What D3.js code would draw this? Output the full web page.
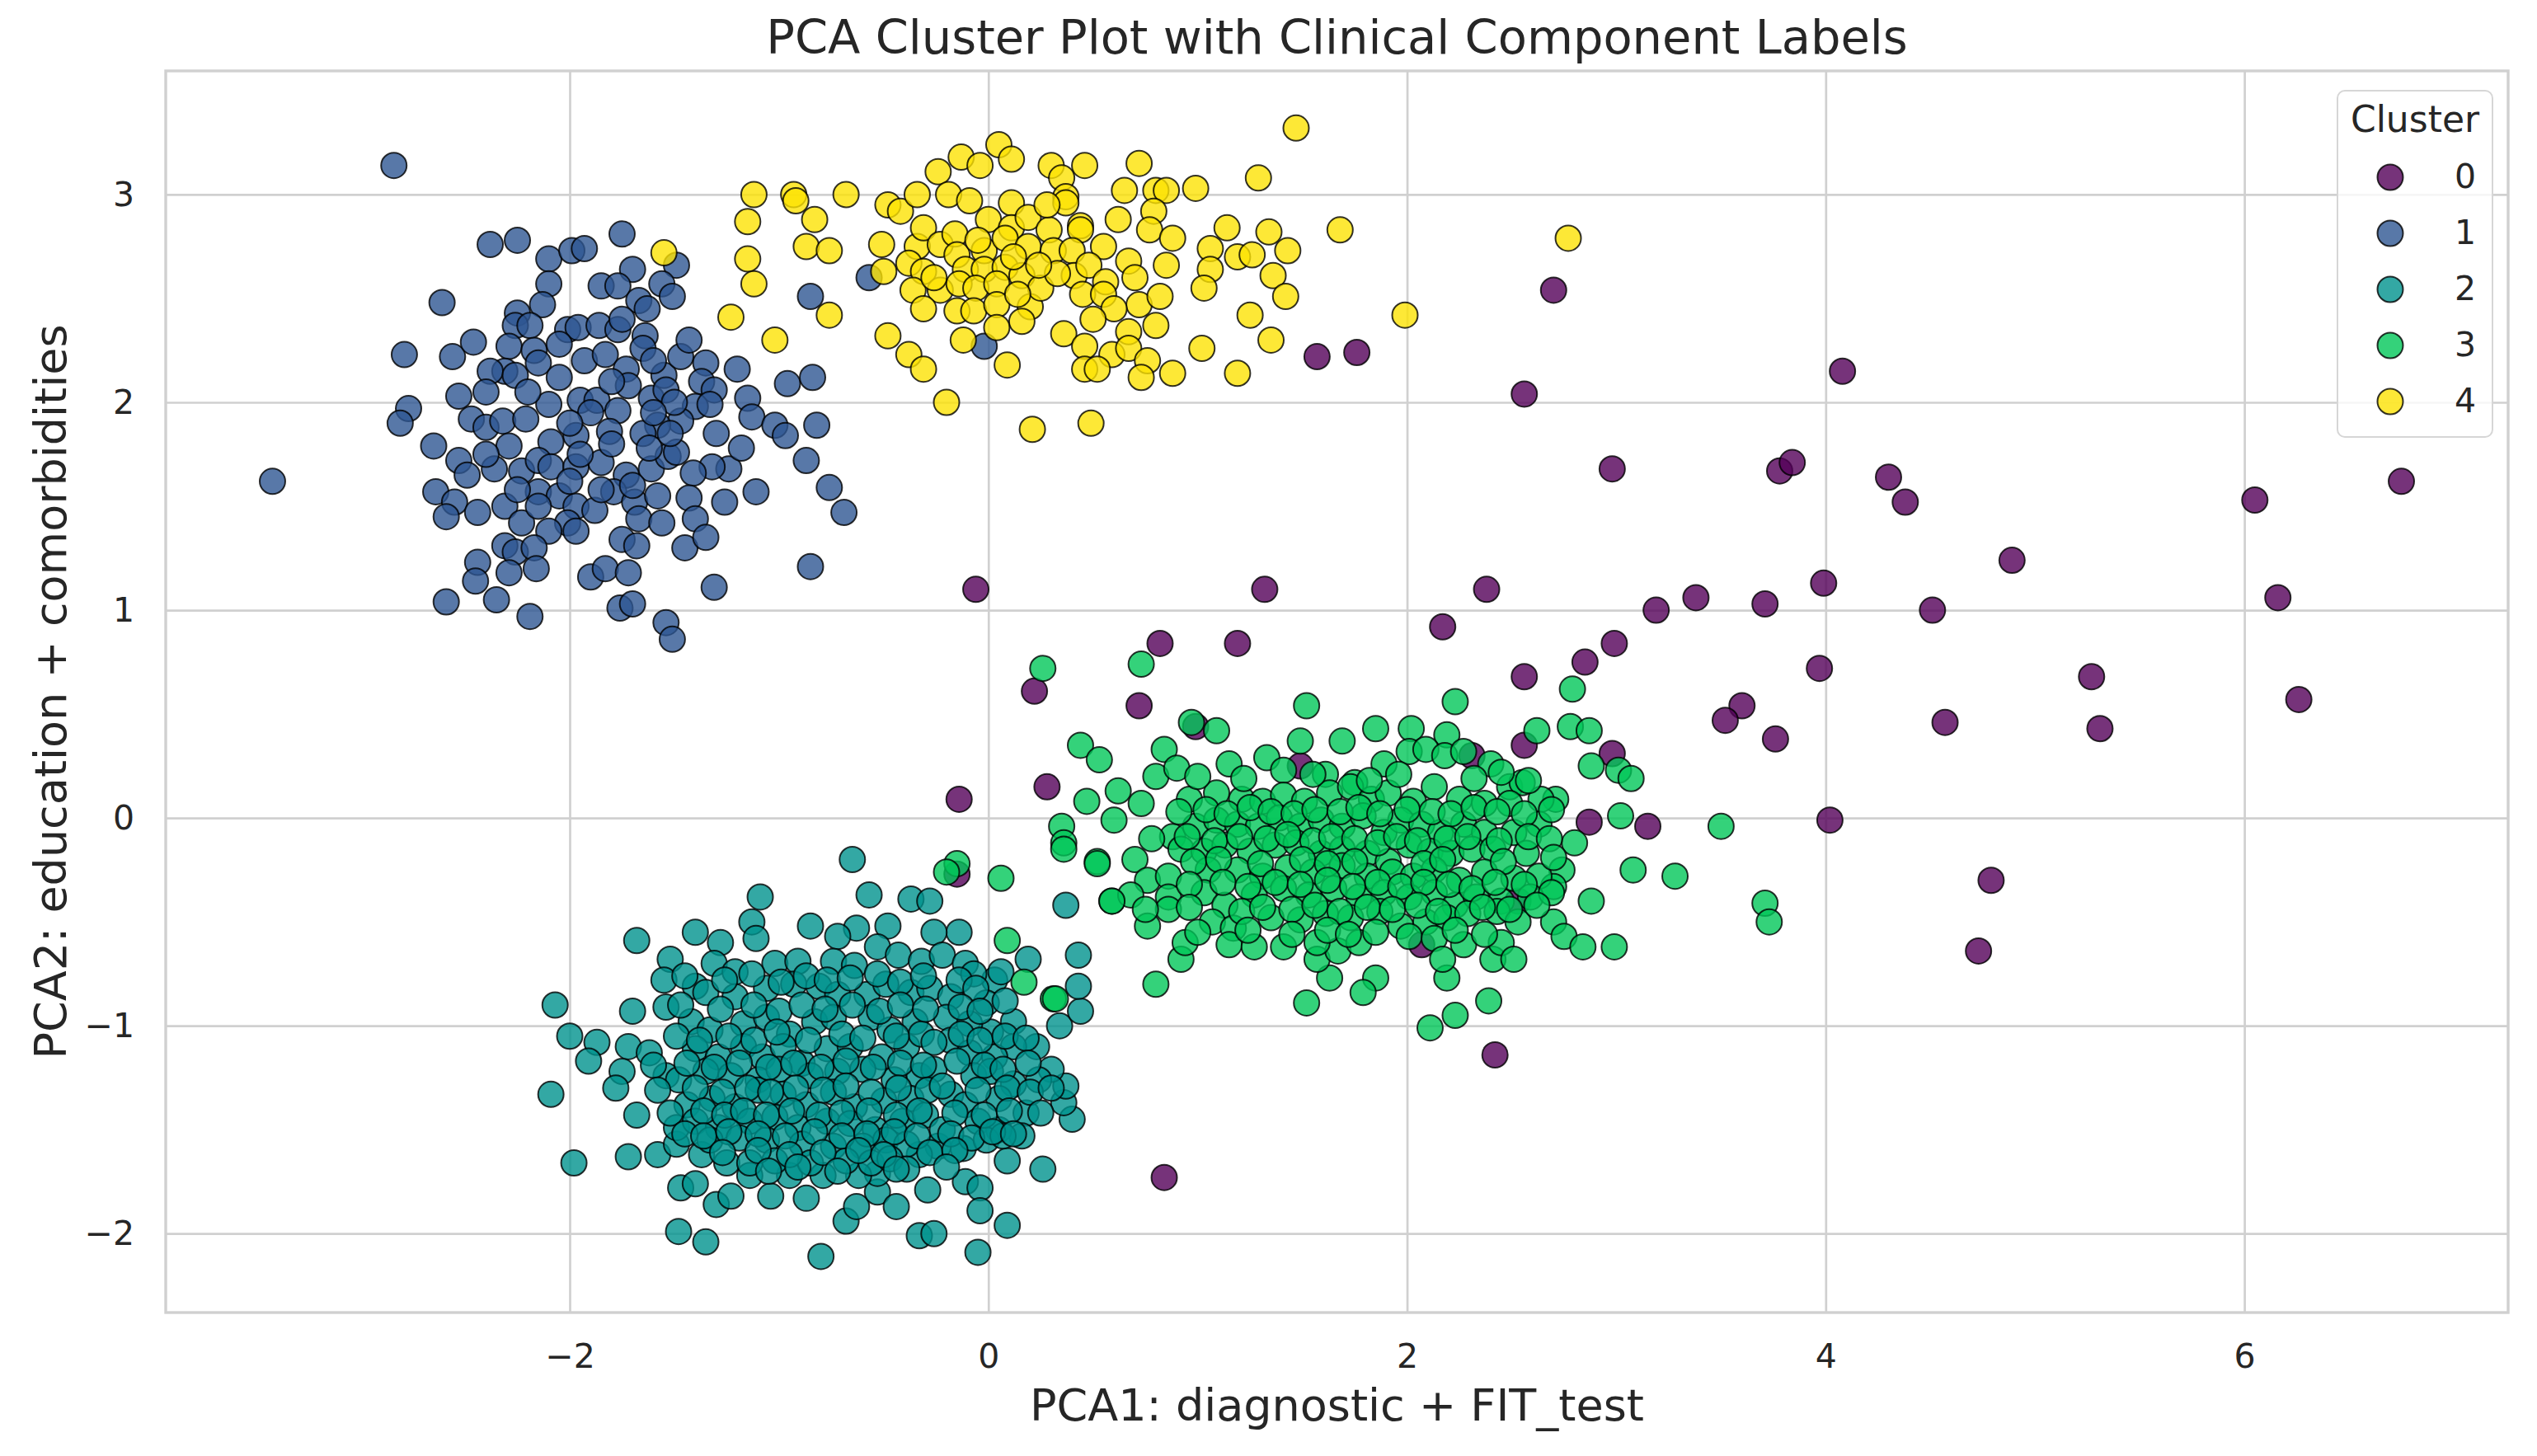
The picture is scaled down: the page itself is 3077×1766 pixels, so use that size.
<!DOCTYPE html>
<html>
<head>
<meta charset="utf-8">
<script src="https://cdn.jsdelivr.net/npm/d3@7"></script>
<style>
  body { margin: 0; background: #ffffff; }
  text { font-family: "DejaVu Sans", sans-serif; fill: #262626; }
</style>
</head>
<body>
<div id="chart"></div>
<script>
// cluster ids and colours (viridis-like, drawn with alpha 0.8)
var clusterLabels = [0, 1, 2, 3, 4];
var clusterColors = ["#540059", "#2e5692", "#00928d", "#01c759", "#fde204"];

var xTicks = [-2, 0, 2, 4, 6];
var yTicks = [-2, -1, 0, 1, 2, 3];

// points, [PCA1, PCA2]
var cluster0 = [
  [1.57,2.22],[1.76,2.24],[2.70,2.54],[2.56,2.04],[2.98,1.68],[4.08,2.15],[3.78,1.67],[3.84,1.71],
  [4.30,1.64],[4.38,1.52],[6.05,1.53],[6.75,1.62],[4.89,1.24],[6.16,1.06],[6.26,0.57],[5.27,0.68],
  [5.31,0.43],[4.51,1.00],[4.57,0.46],[3.99,1.13],[3.97,0.72],[3.71,1.03],[3.38,1.06],[3.19,1.00],
  [2.99,0.84],[2.85,0.75],[2.56,0.68],[2.38,1.10],[2.17,0.92],[3.60,0.54],[3.52,0.47],[3.76,0.38],
  [4.02,-0.01],[4.79,-0.30],[4.73,-0.64],[3.15,-0.04],[2.98,0.31],[2.87,-0.02],[2.56,0.35],[2.31,0.30],
  [1.49,0.25],[2.42,-1.14],[0.84,-1.73],[-0.06,1.10],[1.32,1.10],[1.19,0.84],[0.82,0.84],[0.72,0.54],
  [0.22,0.61],[0.28,0.15],[-0.14,0.09],[-0.15,-0.27],[2.07,-0.61],[2.53,-0.40],[0.99,0.44]
];

var cluster1 = [
  [-2.38,2.76],[-2.25,2.78],[-2.10,2.69],[-1.99,2.73],[-1.93,2.74],[-1.75,2.81],[-1.70,2.64],[-1.49,2.66],
  [-2.10,2.57],[-1.85,2.56],[-1.77,2.56],[-1.56,2.57],[-1.51,2.51],[-1.67,2.49],[-1.63,2.45],[-2.13,2.47],
  [-2.25,2.43],[-2.26,2.37],[-2.19,2.37],[-2.01,2.35],[-1.96,2.36],[-1.86,2.37],[-1.77,2.35],[-1.64,2.32],
  [-1.65,2.26],[-2.61,2.48],[-2.79,2.23],[-2.56,2.22],[-2.46,2.29],[-2.29,2.27],[-2.17,2.25],[-2.31,2.15],
  [-2.38,2.15],[-2.26,2.13],[-2.15,2.19],[-2.05,2.12],[-1.93,2.20],[-1.83,2.23],[-1.73,2.16],[-1.55,2.13],
  [-1.47,2.22],[-1.43,2.30],[-1.35,2.19],[-1.37,2.10],[-1.20,2.16],[-0.96,2.09],[-0.84,2.12],[-0.85,2.51],
  [-0.57,2.60],[-1.31,2.06],[-1.15,2.02],[-1.13,1.93],[-1.02,1.89],[-0.97,1.84],[-0.82,1.89],[-0.87,1.72],
  [-0.76,1.59],[-0.69,1.47],[-0.85,1.21],[-1.31,1.11],[-1.11,1.57],[-1.26,1.52],[-1.24,1.68],[-1.32,1.69],
  [-1.18,1.78],[-2.53,2.03],[-2.77,1.97],[-2.81,1.90],[-2.65,1.79],[-2.47,1.92],[-2.40,1.88],[-2.32,1.91],
  [-2.21,1.92],[-2.10,1.99],[-1.95,2.01],[-1.87,2.01],[-1.77,1.96],[-1.72,2.08],[-1.61,2.02],[-1.54,2.06],
  [-1.40,1.98],[-1.33,1.99],[-1.47,1.91],[-1.58,1.89],[-1.65,1.85],[-1.81,1.86],[-1.97,1.84],[-2.09,1.81],
  [-2.29,1.79],[-2.53,1.72],[-2.49,1.65],[-2.36,1.68],[-2.23,1.67],[-2.15,1.72],[-2.09,1.69],[-1.97,1.69],
  [-1.85,1.71],[-1.73,1.65],[-1.61,1.68],[-1.53,1.74],[-1.49,1.76],[-1.41,1.66],[-2.64,1.57],[-2.55,1.52],
  [-2.59,1.45],[-2.44,1.47],[-2.31,1.50],[-2.23,1.42],[-2.15,1.57],[-2.05,1.55],[-1.97,1.50],[-2.01,1.42],
  [-2.10,1.38],[-1.97,1.38],[-1.79,1.57],[-1.69,1.52],[-1.58,1.55],[-1.43,1.54],[-1.40,1.44],[-1.67,1.44],
  [-1.56,1.42],[-1.75,1.34],[-1.68,1.31],[-1.45,1.30],[-1.35,1.35],[-2.31,1.31],[-2.26,1.28],[-2.17,1.30],
  [-2.44,1.23],[-2.45,1.14],[-2.29,1.18],[-2.16,1.20],[-1.90,1.16],[-1.83,1.20],[-1.72,1.18],[-2.59,1.04],
  [-2.35,1.05],[-2.19,0.97],[-1.76,1.01],[-1.70,1.03],[-1.54,0.94],[-1.51,0.86],[-3.42,1.62],[-2.84,3.14],
  [-0.02,2.27],[-1.90,1.95],[-1.80,1.80],[-2.00,1.62],[-1.62,1.78],[-1.88,1.48],[-2.20,2.05],[-1.50,2.00],
  [-1.75,2.40],[-2.40,2.05],[-1.30,1.85],[-2.05,2.28],[-1.80,2.10],[-1.60,1.95],[-1.95,1.75],[-2.25,1.58],
  [-1.70,1.60],[-1.52,1.85],[-2.40,1.75],[-2.00,1.90],[-1.85,1.58],[-2.15,1.50],[-1.60,2.20]
];

var cluster2 = [
  [-0.65,-0.20],[-1.09,-0.38],[-0.57,-0.37],[-0.37,-0.39],[-0.28,-0.40],[-0.14,-0.55],[-0.26,-0.55],[-0.48,-0.52],
  [-0.63,-0.53],[-0.72,-0.57],[-0.85,-0.52],[-1.13,-0.50],[-1.11,-0.58],[-1.40,-0.55],[-1.68,-0.59],[-1.28,-0.60],
  [-1.52,-0.68],[-1.55,-0.78],[-1.54,-0.91],[-1.70,-0.93],[-2.07,-0.90],[-2.00,-1.05],[-1.87,-1.08],[-1.91,-1.17],
  [-1.72,-1.10],[-1.62,-1.13],[-1.75,-1.22],[-1.78,-1.30],[-2.09,-1.33],[-1.68,-1.43],[-1.98,-1.66],[-1.72,-1.63],
  [-1.58,-1.62],[-1.47,-1.78],[-1.40,-1.76],[-1.30,-1.86],[-1.23,-1.82],[-1.04,-1.82],[-0.87,-1.83],[-0.68,-1.94],
  [-0.63,-1.87],[-0.53,-1.80],[-0.44,-1.87],[-0.33,-2.01],[-0.26,-2.00],[-0.29,-1.79],[-0.11,-1.75],[-0.04,-1.78],
  [-0.04,-1.89],[0.09,-1.96],[0.26,-1.69],[0.09,-1.65],[-0.05,-2.09],[-0.80,-2.11],[-1.48,-1.99],[-1.35,-2.04],
  [0.40,-1.45],[0.36,-1.37],[0.37,-1.29],[0.30,-1.21],[0.23,-1.10],[0.34,-1.00],[0.44,-0.93],[0.43,-0.81],
  [0.43,-0.66],[0.19,-0.68],[0.37,-0.42],[0.03,-0.78],[0.12,-0.98],[0.12,-1.10],[0.18,-1.42],[0.16,-1.53],
  [-0.12,-1.59],[-0.24,-1.58],[-0.33,-1.62],[-0.53,-1.71],[-0.62,-1.72],[-0.79,-1.72],[-0.95,-1.72],[-1.14,-1.72],
  [-1.25,-1.66],[-1.37,-1.62],[-1.49,-1.57],[-1.49,-1.49],
  [-1.31,-0.70],[-1.21,-0.74],[-1.02,-0.70],[-0.91,-0.69],[-0.74,-0.69],[-0.64,-0.71],[-0.53,-0.62],[-0.43,-0.66],
  [-0.32,-0.69],[-0.22,-0.66],[-0.11,-0.70],[-0.07,-0.75],
  [-1.40,-0.81],[-1.35,-0.84],[-1.21,-0.86],[-1.06,-0.82],[-0.93,-0.80],[-0.81,-0.81],[-0.72,-0.85],[-0.58,-0.85],
  [-0.49,-0.80],[-0.37,-0.84],[-0.28,-0.82],[-0.18,-0.86],[-0.01,-0.89],
  [-1.42,-0.98],[-1.33,-1.02],[-1.17,-0.99],[-1.06,-0.96],[-0.95,-1.04],[-0.83,-0.98],[-0.74,-0.96],[-0.56,-0.96],
  [-0.47,-1.02],[-0.35,-0.98],[-0.20,-0.96],[0.01,-1.03],[-0.09,-0.99],
  [-1.40,-1.11],[-1.29,-1.15],[-1.17,-1.10],[-1.08,-1.15],[-0.98,-1.10],[-0.89,-1.18],[-0.77,-1.11],[-0.66,-1.10],
  [-0.51,-1.15],[-0.39,-1.10],[-0.32,-1.04],[-0.18,-1.07],[-0.09,-1.13],[0.03,-1.15],
  [-1.54,-1.24],[-1.48,-1.26],[-1.35,-1.22],[-1.23,-1.24],[-1.10,-1.26],[-1.00,-1.21],[-0.85,-1.24],[-0.72,-1.22],
  [-0.60,-1.21],[-0.45,-1.26],[-0.33,-1.24],[-0.26,-1.21],[-0.07,-1.24],[0.01,-1.22],[0.12,-1.28],[0.24,-1.26],
  [-1.44,-1.38],[-1.32,-1.35],[-1.21,-1.39],[-1.10,-1.31],[-0.98,-1.33],[-0.87,-1.38],[-0.74,-1.32],[-0.64,-1.39],
  [-0.50,-1.36],[-0.37,-1.35],[-0.18,-1.33],[-0.11,-1.38],[0.05,-1.35],
  [-1.40,-1.46],[-1.29,-1.49],[-1.14,-1.46],[-1.02,-1.44],[-0.91,-1.49],[-0.77,-1.46],[-0.66,-1.47],[-0.54,-1.50],
  [-0.41,-1.46],[-0.30,-1.43],[-0.22,-1.50],[-0.05,-1.46],[0.05,-1.50],
  [-1.33,-1.55],[-1.19,-1.54],[-1.06,-1.55],[-0.89,-1.57],[-0.74,-1.58],[-0.60,-1.58],[-0.49,-1.55],[-0.39,-1.57],
  [-0.01,-1.55],[0.07,-1.53],
  [-1.14,-1.66],[-1.02,-1.65],[-0.85,-1.66],[-0.68,-1.65],[-0.56,-1.66],[-0.47,-1.64],[-0.39,-1.69],
  [-1.45,-0.76],[-1.26,-0.78],[-1.13,-0.75],[-0.99,-0.79],[-0.87,-0.76],[-0.77,-0.78],[-0.66,-0.77],[-0.53,-0.75],
  [-0.42,-0.79],[-0.31,-0.76],[-0.14,-0.78],[-0.06,-0.82],[0.06,-0.74],
  [-1.47,-0.90],[-1.28,-0.92],[-1.12,-0.90],[-1.00,-0.93],[-0.89,-0.90],[-0.78,-0.92],[-0.65,-0.90],[-0.52,-0.93],
  [-0.42,-0.90],[-0.30,-0.92],[-0.13,-0.91],[-0.04,-0.93],[0.08,-0.88],
  [-1.49,-1.05],[-1.38,-1.07],[-1.24,-1.05],[-1.12,-1.07],[-1.01,-1.03],[-0.86,-1.07],[-0.70,-1.04],[-0.60,-1.06],
  [-0.44,-1.05],[-0.26,-1.08],[-0.13,-1.04],[-0.04,-1.07],[0.08,-1.05],[0.18,-1.06],
  [-1.60,-1.19],[-1.44,-1.18],[-1.31,-1.20],[-1.19,-1.18],[-1.05,-1.20],[-0.93,-1.18],[-0.80,-1.20],[-0.68,-1.17],
  [-0.55,-1.20],[-0.42,-1.18],[-0.31,-1.19],[-0.15,-1.17],[-0.02,-1.19],[0.07,-1.21],[0.19,-1.18],
  [-1.58,-1.31],[-1.40,-1.30],[-1.27,-1.32],[-1.15,-1.30],[-1.04,-1.32],[-0.92,-1.30],[-0.79,-1.31],[-0.68,-1.29],
  [-0.56,-1.32],[-0.43,-1.30],[-0.29,-1.31],[-0.22,-1.29],[-0.05,-1.31],[0.09,-1.30],[0.20,-1.32],[0.30,-1.30],
  [-1.52,-1.42],[-1.36,-1.41],[-1.26,-1.43],[-1.17,-1.41],[-1.06,-1.43],[-0.94,-1.41],[-0.81,-1.43],[-0.70,-1.42],
  [-0.57,-1.41],[-0.44,-1.43],[-0.33,-1.41],[-0.16,-1.42],[-0.02,-1.43],[0.10,-1.41],[0.25,-1.42],
  [-1.45,-1.52],[-1.36,-1.53],[-1.24,-1.51],[-1.10,-1.52],[-0.97,-1.53],[-0.83,-1.51],[-0.70,-1.53],[-0.58,-1.52],
  [-0.45,-1.51],[-0.34,-1.53],[-0.18,-1.52],[-0.08,-1.54],[0.02,-1.51],[0.12,-1.52],
  [-1.27,-1.61],[-1.10,-1.60],[-0.95,-1.62],[-0.79,-1.61],[-0.62,-1.60],[-0.50,-1.62],[-0.28,-1.61],[-0.16,-1.60],
  [-1.05,-1.70],[-0.91,-1.68],[-0.72,-1.70],[-0.44,-1.69],[-0.20,-1.68]
];

var cluster3 = [
  [0.26,0.72],[0.73,0.74],[1.52,0.54],[2.23,0.56],[2.79,0.62],[0.97,0.46],[1.09,0.42],[0.44,0.35],
  [0.53,0.28],[0.84,0.33],[1.69,0.37],[1.49,0.37],[1.85,0.43],[2.02,0.43],[2.19,0.40],[2.62,0.42],
  [2.78,0.44],[2.87,0.42],[2.88,0.25],[3.01,0.23],[3.07,0.19],[2.71,0.09],[2.64,0.09],[3.02,0.01],
  [2.80,-0.12],[3.08,-0.25],[3.28,-0.28],[2.74,-0.25],[2.70,-0.33],[2.88,-0.40],[2.70,-0.50],[2.75,-0.57],
  [2.84,-0.62],[2.99,-0.62],[2.41,-0.68],[2.19,-0.77],[2.39,-0.88],[2.23,-0.95],[2.11,-1.01],[1.85,-0.77],
  [1.79,-0.84],[1.52,-0.89],[1.63,-0.77],[0.80,-0.80],[0.31,-0.87],[0.92,-0.68],[0.59,-0.40],[0.52,-0.21],
  [0.35,-0.04],[0.36,-0.12],[0.47,0.08],[0.62,0.13],[0.73,0.07],[0.60,-0.01],[0.80,0.20],[0.90,0.24],
  [1.15,0.26],[1.33,0.29],[1.41,0.23],[1.61,0.21],[1.75,0.17],[1.89,0.26],[2.01,0.32],[2.09,0.33],
  [2.18,0.30],[2.27,0.32],[2.40,0.26],[2.49,0.15],[2.55,0.17],
  [0.96,0.09],[1.09,0.12],[1.21,0.09],[1.31,0.08],[1.41,0.11],[1.51,0.08],[1.63,0.12],[1.73,0.15],
  [1.83,0.09],[1.91,0.12],[2.03,0.08],[2.13,0.15],[2.25,0.09],[2.37,0.07],[2.49,0.07],
  [0.88,-0.09],[0.99,-0.04],[1.09,-0.01],[1.19,-0.03],[1.29,-0.04],[1.39,0.00],[1.49,-0.04],[1.59,-0.01],
  [1.69,-0.04],[1.79,0.01],[1.89,-0.07],[1.97,-0.01],[2.07,-0.03],[2.16,-0.07],[2.27,-0.03],[2.37,-0.07],
  [2.51,-0.07],[2.63,-0.03],
  [0.92,-0.15],[1.03,-0.16],[1.13,-0.13],[1.25,-0.16],[1.37,-0.13],[1.47,-0.12],[1.59,-0.17],[1.69,-0.15],
  [1.81,-0.17],[1.91,-0.21],[2.01,-0.13],[2.11,-0.16],[2.21,-0.17],[2.31,-0.15],[2.41,-0.15],[2.57,-0.17],
  [0.70,-0.20],[0.76,-0.30],[0.86,-0.28],[1.05,-0.25],[1.19,-0.25],[1.31,-0.28],[1.43,-0.24],[1.55,-0.26],
  [1.69,-0.23],[1.81,-0.28],[1.93,-0.26],[2.03,-0.28],[2.13,-0.25],[2.25,-0.30],[2.37,-0.26],[2.51,-0.29],
  [2.63,-0.28],
  [0.68,-0.37],[0.86,-0.38],[1.03,-0.36],[1.13,-0.42],[1.27,-0.37],[1.41,-0.34],[1.53,-0.37],[1.65,-0.34],
  [1.77,-0.38],[1.89,-0.36],[2.01,-0.38],[2.13,-0.36],[2.23,-0.42],[2.33,-0.38],[2.45,-0.40],[2.59,-0.38],
  [2.69,-0.36],
  [0.76,-0.52],[0.86,-0.44],[1.07,-0.50],[1.17,-0.53],[1.35,-0.48],[1.49,-0.49],[1.61,-0.46],[1.73,-0.48],
  [1.87,-0.45],[1.97,-0.52],[2.09,-0.50],[2.19,-0.48],[2.29,-0.46],[2.43,-0.45],[2.53,-0.50],
  [0.94,-0.60],[1.15,-0.61],[1.27,-0.62],[1.41,-0.62],[1.57,-0.68],[1.67,-0.64],[1.77,-0.60],[2.01,-0.57],
  [2.13,-0.58],[2.27,-0.61],[2.45,-0.60],[2.51,-0.68],[2.17,-0.68],[1.57,-0.60],
  [-0.15,-0.22],[-0.20,-0.26],[0.06,-0.29],[0.09,-0.59],[0.17,-0.79],[0.32,-0.87],[0.52,-0.22],[0.59,-0.40],
  [0.36,-0.15],[3.50,-0.04],[3.71,-0.41],[3.73,-0.50],
  [1.00,0.20],[1.22,0.19],[1.55,0.21],[1.82,0.18],[1.96,0.21],[2.32,0.19],[2.45,0.22],[2.58,0.18],
  [0.91,0.03],[1.04,0.04],[1.14,0.02],[1.25,0.05],[1.35,0.03],[1.46,0.02],[1.56,0.04],[1.68,0.03],
  [1.77,0.05],[1.87,0.02],[2.00,0.04],[2.12,0.03],[2.21,0.02],[2.32,0.05],[2.43,0.03],[2.56,0.02],[2.69,0.04],
  [0.78,-0.10],[0.95,-0.09],[1.08,-0.11],[1.20,-0.09],[1.33,-0.10],[1.43,-0.08],[1.55,-0.11],[1.64,-0.09],
  [1.75,-0.10],[1.86,-0.12],[1.95,-0.09],[2.05,-0.11],[2.19,-0.10],[2.29,-0.09],[2.44,-0.11],[2.58,-0.09],[2.68,-0.10],
  [0.98,-0.21],[1.10,-0.20],[1.30,-0.22],[1.50,-0.20],[1.62,-0.22],[1.75,-0.21],[2.08,-0.22],[2.17,-0.20],
  [2.46,-0.21],[2.70,-0.19],
  [0.96,-0.32],[1.12,-0.31],[1.24,-0.33],[1.37,-0.31],[1.49,-0.32],[1.62,-0.30],[1.74,-0.33],[1.86,-0.31],
  [1.97,-0.33],[2.08,-0.31],[2.20,-0.32],[2.31,-0.34],[2.42,-0.31],[2.56,-0.32],
  [0.75,-0.44],[0.96,-0.43],[1.21,-0.45],[1.31,-0.43],[1.45,-0.44],[1.56,-0.42],[1.68,-0.45],[1.81,-0.43],
  [1.93,-0.44],[2.05,-0.42],[2.15,-0.45],[2.36,-0.43],[2.49,-0.44],[2.62,-0.42],
  [1.00,-0.55],[1.24,-0.54],[1.45,-0.56],[1.62,-0.54],[1.72,-0.56],[1.85,-0.55],[2.23,-0.54],[2.37,-0.56]
];

var cluster4 = [
  [1.47,3.32],[0.05,3.24],[0.11,3.17],[-0.13,3.18],[-0.04,3.14],[-0.24,3.11],[0.30,3.14],[0.46,3.14],
  [0.35,3.08],[0.72,3.15],[1.29,3.08],[-1.12,3.00],[-0.93,3.00],[-0.92,2.97],[-0.68,3.00],[-0.48,2.95],
  [-0.42,2.92],[-0.34,3.00],[-0.19,3.00],[-0.09,2.97],[0.11,2.96],[0.37,2.99],[0.37,2.96],[0.65,3.02],
  [0.80,3.02],[0.85,3.02],[0.99,3.03],[0.79,2.92],[-1.15,2.87],[-0.83,2.88],[-0.87,2.75],[-0.76,2.73],
  [-1.15,2.69],[-1.12,2.57],[-1.23,2.41],[-1.02,2.30],[-0.76,2.42],[-0.51,2.76],[-0.50,2.63],[-0.34,2.75],
  [-0.31,2.84],[-0.38,2.67],[-0.23,2.76],[-0.16,2.81],[-0.15,2.71],[-0.31,2.63],[-0.36,2.54],[-0.23,2.54],
  [-0.31,2.45],[0.00,2.88],[0.11,2.84],[0.19,2.89],[0.29,2.83],[0.44,2.85],[0.44,2.83],[-0.02,2.73],
  [0.08,2.79],[0.19,2.75],[0.31,2.73],[0.40,2.73],[0.55,2.75],[0.67,2.68],[0.85,2.66],[0.77,2.83],
  [0.88,2.79],[1.14,2.84],[1.34,2.82],[1.68,2.83],[1.06,2.74],[1.19,2.70],[1.26,2.71],[1.43,2.73],
  [1.06,2.64],[1.03,2.55],[1.36,2.61],[1.42,2.51],[-0.11,2.64],[-0.02,2.64],[0.08,2.65],[0.16,2.61],
  [-0.14,2.57],[-0.06,2.55],[0.04,2.57],[-0.15,2.44],[-0.07,2.44],[0.04,2.47],[0.20,2.46],[0.16,2.39],
  [0.04,2.36],[-0.12,2.30],[0.09,2.18],[0.41,2.61],[0.48,2.66],[0.56,2.58],[0.45,2.52],[0.55,2.52],
  [0.72,2.47],[0.82,2.51],[0.80,2.37],[0.67,2.34],[0.36,2.33],[0.46,2.27],[0.59,2.23],[0.67,2.26],
  [0.76,2.20],[0.73,2.12],[0.46,2.16],[0.52,2.16],[0.88,2.14],[1.02,2.26],[1.19,2.14],[1.25,2.42],
  [1.35,2.30],[1.99,2.42],[-0.48,2.32],[-0.38,2.23],[-0.31,2.16],[-0.20,2.00],[0.21,1.87],[0.49,1.90],
  [2.77,2.79],[-1.55,2.72],
  [0.25,2.55],[0.33,2.62],[-0.05,2.78],[0.12,2.70],[0.24,2.66],[0.60,2.45],[0.50,2.40],[0.14,2.52],
  [-0.26,2.60],[0.62,2.88],[0.70,2.60],[0.28,2.95]
];

var clusterPoints = [cluster0, cluster1, cluster2, cluster3, cluster4];

var config = {
  width: 3077,
  height: 1766,
  left: 201,
  right: 3042,
  top: 86,
  bottom: 1592,
  markerRadius: 15.5,
  gridColor: "#d0d0d0"
};

var x = d3.scaleLinear().domain([-3.93, 7.26]).range([config.left, config.right]);
var y = d3.scaleLinear().domain([-2.38, 3.595]).range([config.bottom, config.top]);
var color = d3.scaleOrdinal().domain(clusterLabels).range(clusterColors);

var svg = d3.select("#chart").append("svg")
  .attr("width", config.width)
  .attr("height", config.height);

var plotW = config.right - config.left;
var plotH = config.bottom - config.top;

// grid + tick labels
var xAxis = svg.append("g")
  .attr("transform", "translate(0," + config.bottom + ")")
  .call(d3.axisBottom(x).tickValues(xTicks).tickSize(-plotH).tickPadding(38).tickFormat(d3.format("d")));
var yAxis = svg.append("g")
  .attr("transform", "translate(" + config.left + ",0)")
  .call(d3.axisLeft(y).tickValues(yTicks).tickSize(-plotW).tickPadding(38).tickFormat(d3.format("d")));

[xAxis, yAxis].forEach(function(a) {
  a.select(".domain").remove();
  a.selectAll(".tick line").attr("stroke", config.gridColor).attr("stroke-width", 2.7);
  a.selectAll(".tick text")
    .attr("fill", "#262626")
    .style("font-family", "DejaVu Sans")
    .style("font-size", "41px");
});

// spines
svg.append("rect")
  .attr("x", config.left)
  .attr("y", config.top)
  .attr("width", plotW)
  .attr("height", plotH)
  .attr("fill", "none")
  .attr("stroke", config.gridColor)
  .attr("stroke-width", 3.4);

// points
var pointsG = svg.append("g").attr("class", "points");
clusterLabels.forEach(function(c, i) {
  pointsG.append("g")
    .attr("class", "cluster-" + c)
    .selectAll("circle")
    .data(clusterPoints[i])
    .enter()
    .append("circle")
    .attr("cx", function(d) { return x(d[0]); })
    .attr("cy", function(d) { return y(d[1]); })
    .attr("r", config.markerRadius)
    .attr("fill", color(c))
    .attr("fill-opacity", 0.8)
    .attr("stroke", "#000")
    .attr("stroke-opacity", 0.8)
    .attr("stroke-width", 2);
});

// title and axis labels
svg.append("text")
  .attr("x", (config.left + config.right) / 2)
  .attr("y", 65)
  .attr("text-anchor", "middle")
  .style("font-size", "57.5px")
  .text("PCA Cluster Plot with Clinical Component Labels");

svg.append("text")
  .attr("x", (config.left + config.right) / 2)
  .attr("y", 1723)
  .attr("text-anchor", "middle")
  .style("font-size", "54px")
  .text("PCA1: diagnostic + FIT_test");

svg.append("text")
  .attr("transform", "translate(80," + ((config.top + config.bottom) / 2) + ") rotate(-90)")
  .attr("text-anchor", "middle")
  .style("font-size", "54px")
  .text("PCA2: education + comorbidities");

// legend
var legend = svg.append("g").attr("class", "legend");
legend.append("rect")
  .attr("x", 2835)
  .attr("y", 110)
  .attr("width", 188)
  .attr("height", 420)
  .attr("rx", 9)
  .attr("fill", "#ffffff")
  .attr("fill-opacity", 0.8)
  .attr("stroke", "#d6d6d6")
  .attr("stroke-width", 2);
legend.append("text")
  .attr("x", 2929)
  .attr("y", 160)
  .attr("text-anchor", "middle")
  .style("font-size", "44px")
  .text("Cluster");

var item = legend.selectAll(".item")
  .data(clusterLabels)
  .enter()
  .append("g")
  .attr("class", "item")
  .attr("transform", function(d, i) { return "translate(0," + (215 + i * 68) + ")"; });
item.append("circle")
  .attr("cx", 2899)
  .attr("cy", 0)
  .attr("r", config.markerRadius)
  .attr("fill", function(d) { return color(d); })
  .attr("fill-opacity", 0.8)
  .attr("stroke", "#000")
  .attr("stroke-opacity", 0.8)
  .attr("stroke-width", 2);
item.append("text")
  .attr("x", 2977)
  .attr("y", 0)
  .attr("dy", "0.32em")
  .style("font-size", "41px")
  .text(function(d) { return d; });
</script>
</body>
</html>
